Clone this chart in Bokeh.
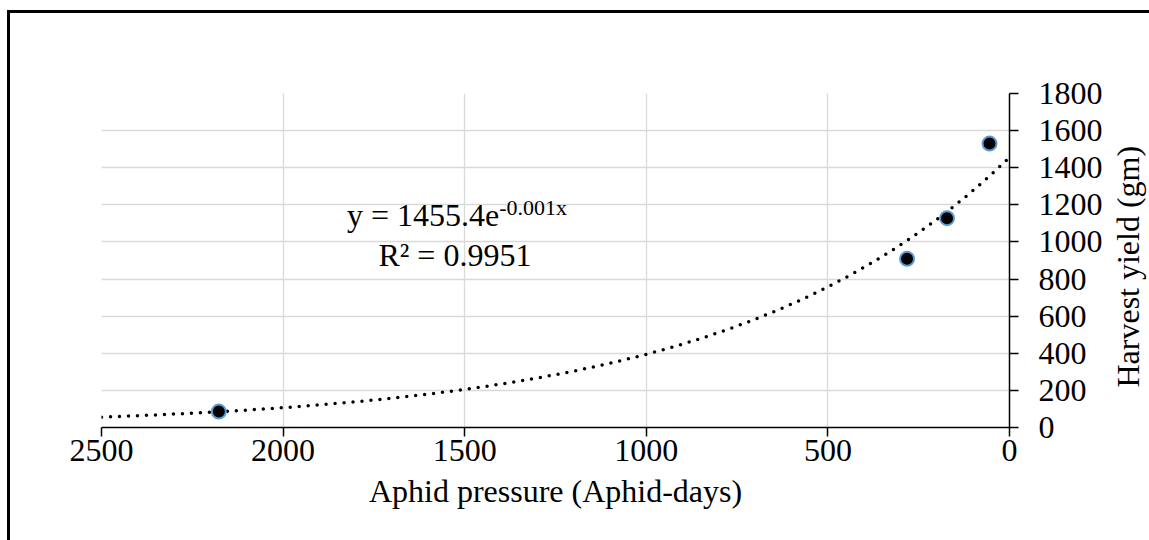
import math
import numpy as np
from bokeh.plotting import figure
from bokeh.layouts import row
from bokeh.models import Range1d, SingleIntervalTicker, ColumnDataSource, InlineStyleSheet
from bokeh.core.properties import value
from bokeh.embed import file_html
from bokeh.resources import INLINE

# data
aphid_days = [2177, 282, 172, 55]
harvest_yield = [86, 909, 1128, 1530]
x_title = "Aphid pressure (Aphid-days)"
y_title = "Harvest yield (gm)"
eq_main = "y = 1455.4e"
eq_sup = "-0.001x"
r2_text = "R\u00b2 = 0.9951"

FONT = "Liberation Serif"
FS = "32px"

# exponential trendline (least squares on ln y, as a spreadsheet does)
k, b = np.polyfit(np.array(aphid_days, float), np.log(harvest_yield), 1)
tx = np.linspace(2500, 0, 400)
ty = np.exp(b) * np.exp(k * tx)

p = figure(width=1112, height=540, output_backend="svg", toolbar_location=None,
           x_range=Range1d(2500, 0), y_range=Range1d(0, 1800),
           y_axis_location="right",
           min_border_left=101, min_border_right=103, min_border_top=93, min_border_bottom=113)
p.outline_line_color = None
p.background_fill_color = "white"
p.border_fill_color = "white"

p.xaxis.ticker = SingleIntervalTicker(interval=500)
p.yaxis.ticker = SingleIntervalTicker(interval=200)
for ax in (p.xaxis[0], p.yaxis[0]):
    ax.axis_line_color = "black"
    ax.axis_line_width = 1.5
    ax.major_tick_line_color = "black"
    ax.major_tick_line_width = 1.5
    ax.major_tick_in = 0
    ax.major_tick_out = 9
    ax.minor_tick_line_color = None
    ax.major_label_text_font = FONT
    ax.major_label_text_font_size = FS
    ax.major_label_text_color = "black"
    ax.axis_label_text_font = FONT
    ax.axis_label_text_font_size = FS
    ax.axis_label_text_font_style = "normal"
    ax.axis_label_text_color = "black"
p.xaxis.axis_label = x_title
p.xaxis.major_label_standoff = 3
p.xaxis.axis_label_standoff = 9
p.yaxis.major_label_standoff = 20

p.grid.grid_line_color = "#d9d9d9"
p.grid.grid_line_width = 1.3

p.line(tx, ty, line_color="black", line_width=3.5, line_dash="0 9", line_cap="round")

src = ColumnDataSource(dict(x=aphid_days, y=harvest_yield))
p.scatter("x", "y", source=src, size=14, fill_color="black",
          line_color="#5b9bd5", line_width=2)

p.text(x=[1405], y=[1143], text=[eq_main], text_font=value(FONT), text_font_size=FS,
       text_align="right", text_baseline="alphabetic", text_color="black")
p.text(x=[1405], y=[1186], text=[eq_sup], text_font=value(FONT), text_font_size="22px",
       text_align="left", text_baseline="alphabetic", text_color="black")
p.text(x=[1527], y=[932], text=[r2_text], text_font=value(FONT), text_font_size=FS,
       text_align="center", text_baseline="alphabetic", text_color="black")

# narrow strip holding the y-axis title, reading bottom to top as in the picture
t = figure(width=37, height=540, output_backend="svg", toolbar_location=None,
           x_range=Range1d(0, 37), y_range=Range1d(0, 540),
           x_axis_location=None, y_axis_location=None, min_border=0)
t.outline_line_color = None
t.grid.visible = False
t.background_fill_color = "white"
t.border_fill_color = "white"
t.text(x=[15], y=[260], text=[y_title], angle=math.pi / 2, text_font=value(FONT),
       text_font_size=FS, text_align="center", text_baseline="alphabetic", text_color="black")

layout = row(p, t, spacing=0)

# outer chart-area border (left and top edges visible in the picture)
layout.stylesheets = [InlineStyleSheet(css="""
:host::before {
  content: ''; position: absolute; left: 7px; top: 10px;
  width: 2.5px; height: 530px; background: black;
  pointer-events: none; z-index: 10;
}
:host::after {
  content: ''; position: absolute; left: 7px; top: 10px;
  width: 1142px; height: 2.5px; background: black;
  pointer-events: none; z-index: 10;
}
""")]

open("out.html", "w").write(file_html(layout, INLINE))
